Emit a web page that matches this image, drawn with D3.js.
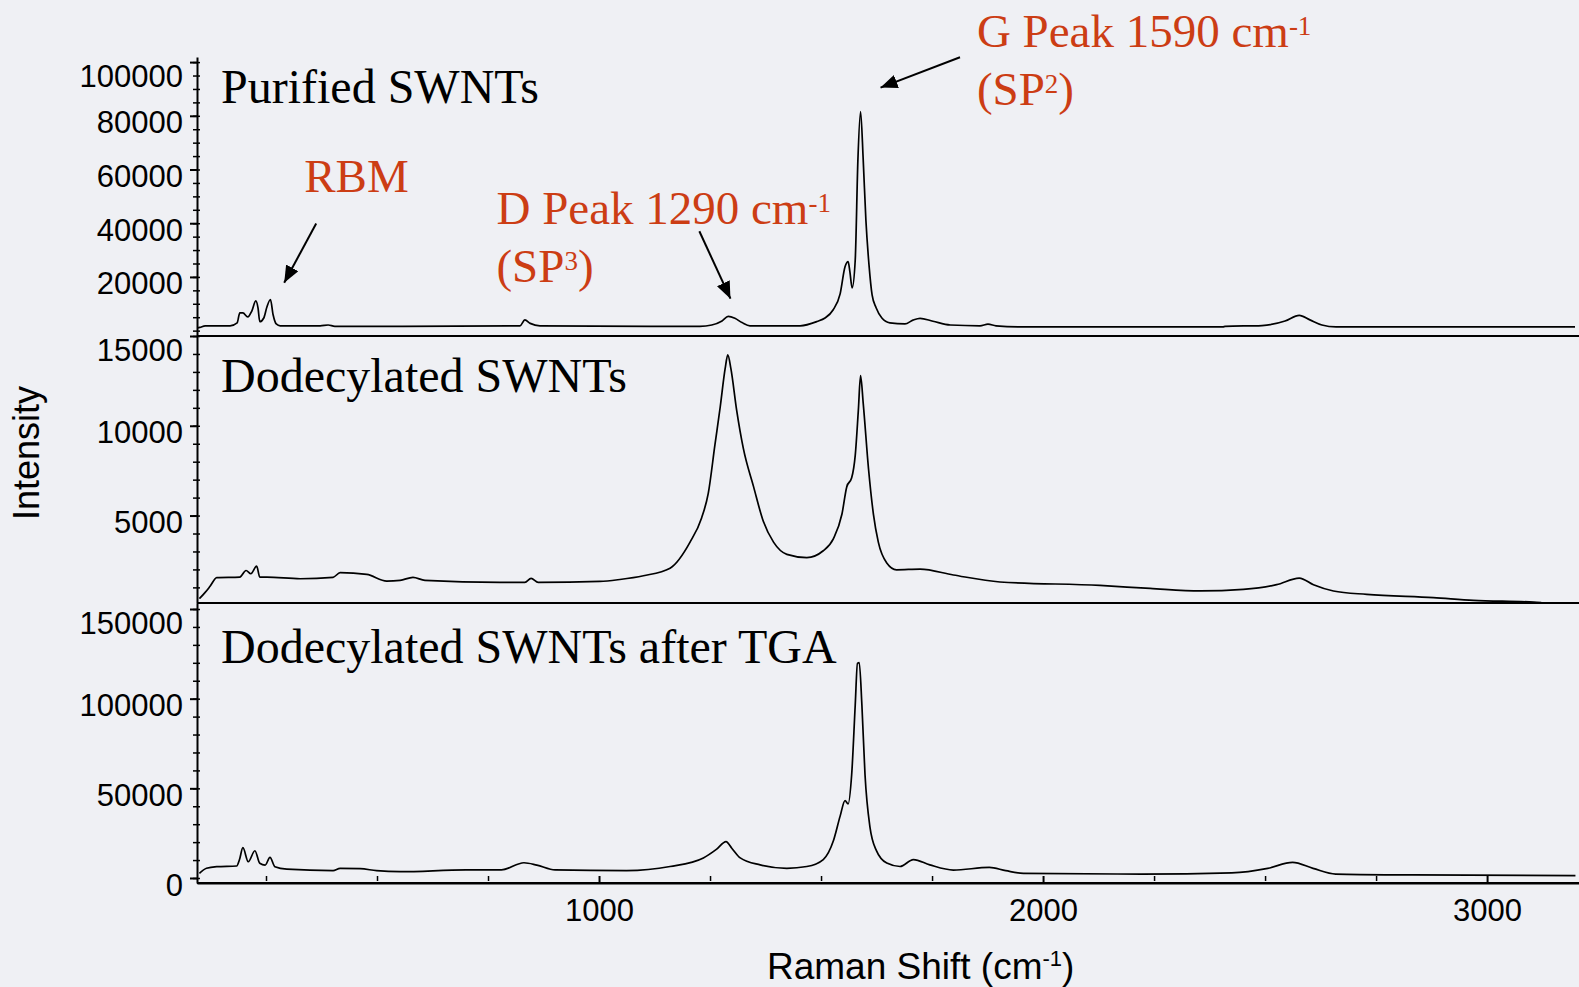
<!DOCTYPE html>
<html>
<head>
<meta charset="utf-8">
<script src="https://cdn.jsdelivr.net/npm/d3@7"></script>
<style>
  body { margin: 0; background: #eff0f4; overflow: hidden; }
  .tick text { font-family: "Liberation Sans", Arial, sans-serif; font-size: 31px; fill: #000; }
  .axis path, .axis line { stroke: #000; stroke-width: 2; }
  .minor line { stroke-width: 1.5; }
</style>
</head>
<body>
<div id="chart"></div>
<script>
// Raman shift (cm-1) and intensity
const shiftPurified = [95, 101, 113, 169, 185, 191, 198, 209, 218, 227, 232, 236, 245, 252, 260, 266, 273, 282, 372, 390, 405, 552, 822, 833, 845, 867, 1227, 1254, 1277, 1291, 1306, 1322, 1340, 1453, 1491, 1509, 1527, 1543, 1554, 1561, 1565, 1570, 1577, 1583, 1589, 1595, 1601, 1608, 1615, 1624, 1637, 1655, 1689, 1707, 1723, 1752, 1791, 1858, 1876, 1894, 1948, 2405, 2410, 2493, 2545, 2577, 2601, 2628, 2660, 3198];
const intensityPurified = [1000, 1200, 1800, 1800, 2900, 6600, 6600, 5100, 7300, 11100, 8500, 3300, 4700, 8800, 11600, 5900, 2500, 1800, 1800, 2100, 1600, 1600, 1800, 4000, 2700, 1800, 1600, 2100, 3600, 5300, 4600, 3000, 1800, 1800, 3400, 4700, 7700, 13700, 23800, 25700, 21900, 15900, 26300, 63500, 81600, 63500, 41200, 24500, 13300, 8500, 4700, 2900, 2500, 3900, 4600, 3500, 2100, 1800, 2400, 1800, 1400, 1400, 1600, 1900, 3600, 5700, 4000, 2100, 1400, 1400];

const shiftDodecyl = [100, 113, 124, 139, 191, 205, 216, 229, 236, 252, 327, 401, 417, 477, 522, 552, 581, 608, 777, 833, 847, 863, 1002, 1047, 1100, 1160, 1205, 1231, 1246, 1261, 1273, 1284, 1290, 1297, 1310, 1325, 1348, 1370, 1393, 1423, 1468, 1505, 1528, 1547, 1558, 1569, 1577, 1584, 1589, 1595, 1607, 1618, 1629, 1648, 1670, 1723, 1798, 1903, 2128, 2241, 2354, 2451, 2526, 2577, 2609, 2654, 2729, 2879, 2969, 3105, 3122];
const intensityDodecyl = [370, 720, 1060, 1540, 1570, 1940, 1760, 2180, 1570, 1570, 1480, 1560, 1820, 1720, 1350, 1390, 1560, 1390, 1280, 1280, 1500, 1280, 1330, 1440, 1650, 2070, 3520, 4870, 6230, 8930, 11060, 13180, 13950, 13180, 10860, 8740, 6610, 4680, 3520, 2840, 2660, 3040, 3720, 5070, 6610, 7100, 8350, 10860, 12790, 11250, 7580, 5070, 3520, 2360, 1980, 2020, 1690, 1300, 1110, 940, 800, 890, 1150, 1520, 1150, 800, 610, 430, 280, 180, 150];

const shiftTGA = [100, 116, 139, 184, 190, 198, 210, 225, 236, 248, 259, 270, 297, 401, 417, 462, 499, 552, 700, 780, 831, 860, 901, 1062, 1160, 1235, 1265, 1286, 1299, 1318, 1363, 1423, 1468, 1505, 1528, 1543, 1554, 1561, 1569, 1577, 1582, 1586, 1592, 1599, 1610, 1625, 1648, 1678, 1708, 1745, 1798, 1879, 1916, 1956, 2221, 2425, 2506, 2562, 2608, 2659, 2832, 3199];
const intensityTGA = [2600, 5400, 6300, 6700, 10000, 16900, 9100, 15200, 8200, 7200, 11500, 6300, 4900, 4100, 5400, 5200, 4100, 3500, 4500, 4500, 8500, 7200, 4500, 4100, 6400, 11200, 16100, 20300, 16600, 11200, 7300, 5400, 6400, 10300, 20900, 34500, 43200, 41300, 57700, 96500, 119700, 120100, 96500, 57700, 28700, 15100, 8300, 6400, 10300, 7300, 4400, 5900, 4100, 2600, 2200, 2900, 5400, 8700, 5400, 2200, 1700, 1300];

const panelTitles = ["Purified SWNTs", "Dodecylated SWNTs", "Dodecylated SWNTs after TGA"];
const yTicksPurified = [20000, 40000, 60000, 80000, 100000];
const yTicksDodecyl = [5000, 10000, 15000];
const yTicksTGA = [0, 50000, 100000, 150000];
const xTicks = [1000, 2000, 3000];

const width = 1579, height = 987;
const red = "#cc3d14";

const svg = d3.select("#chart").append("svg")
    .attr("width", width)
    .attr("height", height);

const x = d3.scaleLinear().domain([94.6, 3207]).range([197, 1579]);

const y1 = d3.scaleLinear().domain([-2000, 101900]).range([336, 57]);
const y2 = d3.scaleLinear().domain([130, 15000]).range([603, 336]);
const y3 = d3.scaleLinear().domain([-2790, 153350]).range([883, 603]);

const panels = [
  {y: y1, shift: shiftPurified, inten: intensityPurified, ticks: yTicksPurified, minor: d3.range(0, 100001, 5000)},
  {y: y2, shift: shiftDodecyl, inten: intensityDodecyl, ticks: yTicksDodecyl, minor: d3.range(1000, 15001, 1000)},
  {y: y3, shift: shiftTGA, inten: intensityTGA, ticks: yTicksTGA, minor: d3.range(0, 150001, 10000)}
];

// arrowhead
svg.append("defs").append("marker")
    .attr("id", "head")
    .attr("markerUnits", "userSpaceOnUse")
    .attr("markerWidth", 18).attr("markerHeight", 14)
    .attr("refX", 17).attr("refY", 7)
    .attr("orient", "auto")
  .append("path")
    .attr("d", "M0,0L17,7L0,14Z")
    .attr("fill", "#000");

panels.forEach((p, i) => {
  // minor ticks crossing the axis
  const gm = svg.append("g")
      .attr("class", "axis minor")
      .attr("transform", "translate(197,0)")
      .call(d3.axisLeft(p.y).tickValues(p.minor).tickFormat("").tickSize(4).tickSizeOuter(0));
  gm.select(".domain").remove();
  gm.selectAll(".tick line").attr("x1", 3);

  const top = d3.max(p.ticks);
  const g = svg.append("g")
      .attr("class", "axis")
      .attr("transform", "translate(197,0)")
      .call(d3.axisLeft(p.y).tickValues(p.ticks).tickFormat(d3.format("d")).tickSize(7).tickPadding(7).tickSizeOuter(0));
  g.selectAll(".tick text").attr("dy", d => d === top && i < 2 || d === 150000 ? "0.8em" : "0.55em");

  // panel bottom line
  svg.append("line")
      .attr("x1", 197).attr("x2", width)
      .attr("y1", p.y.range()[0]).attr("y2", p.y.range()[0])
      .attr("stroke", "#000").attr("stroke-width", 2);

  const line = d3.line()
      .curve(d3.curveMonotoneX)
      .x(d => x(d[0]))
      .y(d => p.y(d[1]));

  svg.append("path")
      .datum(d3.zip(p.shift, p.inten))
      .attr("d", line)
      .attr("fill", "none")
      .attr("stroke", "#000")
      .attr("stroke-width", 1.7)
      .attr("stroke-linejoin", "round");

  svg.append("text")
      .attr("x", 221)
      .attr("y", [103, 392, 663][i])
      .attr("font-family", "'Liberation Serif', 'Times New Roman', serif")
      .attr("font-size", 48)
      .text(panelTitles[i]);
});

// x axis
const gxm = svg.append("g")
    .attr("class", "axis minor")
    .attr("transform", "translate(0,883)")
    .call(d3.axisBottom(x).tickValues(d3.range(250, 3001, 250).filter(v => v % 1000)).tickFormat("").tickSize(-7).tickSizeOuter(0));
gxm.select(".domain").remove();
gxm.selectAll(".tick line").attr("y1", -2);

svg.append("g")
    .attr("class", "axis")
    .attr("transform", "translate(0,883)")
    .call(d3.axisBottom(x).tickValues(xTicks).tickFormat(d3.format("d")).tickSizeInner(-7).tickSizeOuter(0).tickPadding(16));

// axis titles
svg.append("text")
    .attr("transform", "translate(39,453) rotate(-90)")
    .attr("text-anchor", "middle")
    .attr("font-family", "'Liberation Sans', Arial, sans-serif")
    .attr("font-size", 36)
    .text("Intensity");

const xt = svg.append("text")
    .attr("x", 767).attr("y", 979)
    .attr("font-family", "'Liberation Sans', Arial, sans-serif")
    .attr("font-size", 37);
xt.append("tspan").text("Raman Shift (cm");
xt.append("tspan").attr("font-size", 22).attr("dy", -13).text("-1");
xt.append("tspan").attr("dy", 13).text(")");

// annotations, anchored in the purified-spectrum coordinates
const notes = [
  {lines: [["RBM", ""]], at: [336, 51600], from: [363, 39900], to: [291, 17800]},
  {lines: [["D Peak 1290 cm", "-1"], ["(SP", "3", ")"]], at: [769, 39800], from: [1226, 37000], to: [1296, 11900]},
  {lines: [["G Peak 1590 cm", "-1"], ["(SP", "2", ")"]], at: [1851, 105500], from: [1813, 101800], to: [1634, 90500]}
];

notes.forEach(n => {
  n.lines.forEach((ln, k) => {
    const t = svg.append("text")
        .attr("x", x(n.at[0]))
        .attr("y", y1(n.at[1]) + k * 58)
        .attr("font-family", "'Liberation Serif', 'Times New Roman', serif")
        .attr("font-size", 47)
        .attr("fill", red);
    t.append("tspan").text(ln[0]);
    if (ln[1]) t.append("tspan").attr("font-size", 27).attr("dy", -12).text(ln[1]);
    if (ln[2]) t.append("tspan").attr("dy", 12).text(ln[2]);
  });
  svg.append("line")
      .attr("x1", x(n.from[0])).attr("y1", y1(n.from[1]))
      .attr("x2", x(n.to[0])).attr("y2", y1(n.to[1]))
      .attr("stroke", "#000")
      .attr("stroke-width", 2)
      .attr("marker-end", "url(#head)");
});
</script>
</body>
</html>
